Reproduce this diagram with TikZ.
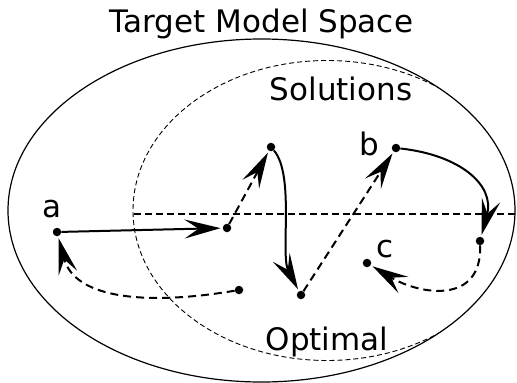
\documentclass[tikz,border=0pt]{standalone}
\usepackage{fontspec}
\setmainfont{DejaVu Sans}
\usetikzlibrary{arrows.meta}
\begin{document}
\begin{tikzpicture}[x=1pt,y=-1pt,
  dot/.style={circle,fill=black,inner sep=0pt,minimum size=8.5pt},
  lbl/.style={font=\fontsize{31}{37}\selectfont,anchor=base,inner sep=0pt},
  conn/.style={line width=2pt,-{Stealth[length=36pt,width=19pt,inset=14pt]},shorten >=2pt},
  dconn/.style={conn,dash pattern=on 8pt off 5pt}]
\useasboundingbox (0,0) rectangle (517,383);
% outer ellipse
\draw[line width=1.2pt] (261.5,210.5) ellipse [x radius=253.5, y radius=171.5];
\begin{scope}
  \clip (261.5,210.5) ellipse [x radius=253.5, y radius=171.5];
  \draw[line width=0.9pt,dash pattern=on 5pt off 3pt] (327,210.5) ellipse [x radius=194, y radius=150];
\end{scope}
\draw[line width=1.4pt,dash pattern=on 7pt off 4pt] (134,214) -- (517,214);
% labels
\node[lbl] (title) at (261.5,32) {Target Model Space};
\node[lbl] (sol) at (341,100) {Solutions};
\node[lbl] (opt) at (327,350) {Optimal};
\node[lbl] (la) at (52,217) {a};
\node[lbl] (lb) at (369,155) {b};
\node[lbl] (lc) at (385,257) {c};
% dots
\node[dot] (a) at (57,232) {};
\node[dot] (d1) at (227,228) {};
\node[dot] (d2) at (271,147) {};
\node[dot] (d3) at (301,295) {};
\node[dot] (b) at (396,148) {};
\node[dot] (d5) at (480,241) {};
\node[dot] (c) at (367,263) {};
\node[dot] (d6) at (239,290) {};
% connectors
\draw[conn] (a) -- (d1);
\draw[dconn] (d1) -- (d2);
\draw[conn] (d2) .. controls (295,175) and (280,255) .. (d3);
\draw[dconn] (d3) -- (b);
\draw[conn] (b) .. controls (460,155) and (495,185) .. (d5);
\draw[dconn] (d5) .. controls (482,305) and (420,295) .. (c);
\draw[dconn] (d6) .. controls (150,305) and (75,300) .. (a);
\end{tikzpicture}
\end{document}
